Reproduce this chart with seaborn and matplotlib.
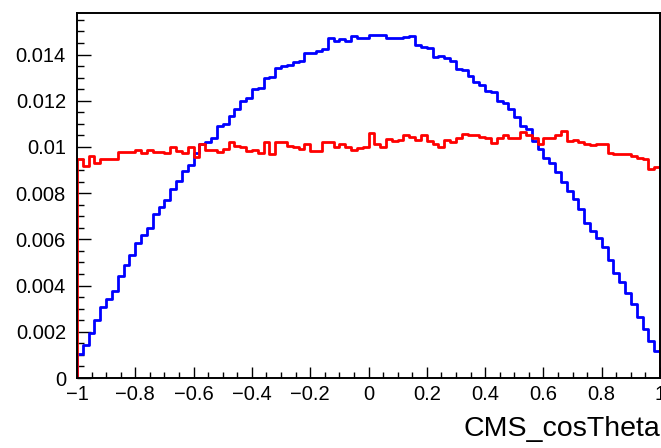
import numpy as np
import pandas as pd
import matplotlib
matplotlib.use("Agg")
import matplotlib.pyplot as plt
import seaborn as sns
from matplotlib.ticker import MultipleLocator, FuncFormatter

# ---- data (normalised histograms, 100 bins on [-1, 1]) ----
x_min, x_max, n_bins = -1.0, 1.0, 100

blue_values = [
    0.00104, 0.00144, 0.00194, 0.00252, 0.00308, 0.00341, 0.00377, 0.00441, 0.00488, 0.00531,
    0.00586, 0.00618, 0.00648, 0.00710, 0.00740, 0.00772, 0.00819, 0.00853, 0.00894, 0.00923,
    0.00976, 0.01012, 0.01020, 0.01041, 0.01092, 0.01099, 0.01135, 0.01164, 0.01197, 0.01214,
    0.01253, 0.01257, 0.01297, 0.01303, 0.01344, 0.01351, 0.01355, 0.01367, 0.01372, 0.01408,
    0.01405, 0.01416, 0.01423, 0.01473, 0.01459, 0.01466, 0.01459, 0.01480, 0.01470, 0.01470,
    0.01485, 0.01485, 0.01485, 0.01470, 0.01473, 0.01473, 0.01476, 0.01480, 0.01441, 0.01434,
    0.01427, 0.01389, 0.01394, 0.01386, 0.01372, 0.01338, 0.01333, 0.01307, 0.01283, 0.01269,
    0.01243, 0.01240, 0.01199, 0.01192, 0.01164, 0.01130, 0.01090, 0.01076, 0.01027, 0.00991,
    0.00953, 0.00932, 0.00891, 0.00848, 0.00809, 0.00773, 0.00730, 0.00670, 0.00636, 0.00608,
    0.00565, 0.00511, 0.00454, 0.00416, 0.00367, 0.00320, 0.00262, 0.00212, 0.00161, 0.00115,
]

red_values = [
    0.00950, 0.00917, 0.00960, 0.00929, 0.00949, 0.00949, 0.00949, 0.00979, 0.00979, 0.00979,
    0.00986, 0.00972, 0.00986, 0.00979, 0.00979, 0.00972, 0.01002, 0.00981, 0.00976, 0.01002,
    0.00955, 0.01012, 0.00986, 0.00986, 0.00979, 0.00991, 0.01022, 0.01005, 0.00998, 0.00981,
    0.00986, 0.00973, 0.01020, 0.00969, 0.01020, 0.01020, 0.01005, 0.00998, 0.00991, 0.01012,
    0.00984, 0.00984, 0.01022, 0.01022, 0.00998, 0.01012, 0.00998, 0.00986, 0.00995, 0.01001,
    0.01061, 0.01015, 0.01001, 0.01035, 0.01025, 0.01030, 0.01050, 0.01044, 0.01030, 0.01054,
    0.01025, 0.01015, 0.01001, 0.01030, 0.01021, 0.01040, 0.01057, 0.01054, 0.01050, 0.01044,
    0.01040, 0.01018, 0.01040, 0.01050, 0.01040, 0.01040, 0.01064, 0.01054, 0.01040, 0.01015,
    0.01040, 0.01040, 0.01051, 0.01068, 0.01025, 0.01032, 0.01021, 0.01015, 0.01007, 0.01011,
    0.01011, 0.00975, 0.00968, 0.00971, 0.00968, 0.00960, 0.00953, 0.00949, 0.00903, 0.00913,
]

edges = np.linspace(x_min, x_max, n_bins + 1)
centers = 0.5 * (edges[:-1] + edges[1:])
df = pd.DataFrame({"CMS_cosTheta": centers, "blue": blue_values, "red": red_values})

# ---- style ----
sns.set_style("ticks")
plt.rcParams["font.family"] = ["Liberation Sans", "DejaVu Sans"]
plt.rcParams["axes.unicode_minus"] = True
plt.rcParams["text.color"] = "black"
plt.rcParams["axes.labelcolor"] = "black"

fig = plt.figure(figsize=(6.61, 4.48), dpi=100)
ax = fig.add_axes([77 / 661, 1 - 378 / 448, (660 - 77) / 661, (378 - 13) / 448])

lw = 2.0
for col, colour in [("blue", "#0000ff"), ("red", "#ff0000")]:
    sns.histplot(data=df, x="CMS_cosTheta", weights=col, bins=n_bins,
                 binrange=(x_min, x_max), element="step", fill=False,
                 color=colour, linewidth=lw, ax=ax)
    vals = df[col].to_numpy()
    ax.vlines([edges[0], edges[-1]], 0, [vals[0], vals[-1]], colors=colour, linewidth=lw)

ax.set_xlim(x_min, x_max)
ax.set_ylim(0, 0.0158)
ax.set_ylabel("")
ax.set_xlabel("CMS_cosTheta", fontsize=20.5, loc="right", color="black")
ax.xaxis.set_label_coords(1.0, -0.105)
ax.xaxis.label.set_horizontalalignment("right")

ax.xaxis.set_major_locator(MultipleLocator(0.2))
ax.xaxis.set_minor_locator(MultipleLocator(0.05))
ax.yaxis.set_major_locator(MultipleLocator(0.002))
ax.yaxis.set_minor_locator(MultipleLocator(0.0005))


def fmt(v, pos):
    s = "%g" % round(v, 6)
    if s == "-0":
        s = "0"
    return s.replace("-", "\u2212")


ax.xaxis.set_major_formatter(FuncFormatter(fmt))
ax.yaxis.set_major_formatter(FuncFormatter(fmt))

ax.tick_params(axis="both", which="both", direction="in", colors="black",
               labelcolor="black", labelsize=14.5, width=1.0)
ax.tick_params(axis="x", which="major", length=8, pad=5)
ax.tick_params(axis="x", which="minor", length=4)
ax.tick_params(axis="y", which="major", length=10, pad=8)
ax.tick_params(axis="y", which="minor", length=5)
for sp in ax.spines.values():
    sp.set_visible(True)
    sp.set_linewidth(1.4)
    sp.set_color("black")

fig.savefig("out.png", dpi=100)
